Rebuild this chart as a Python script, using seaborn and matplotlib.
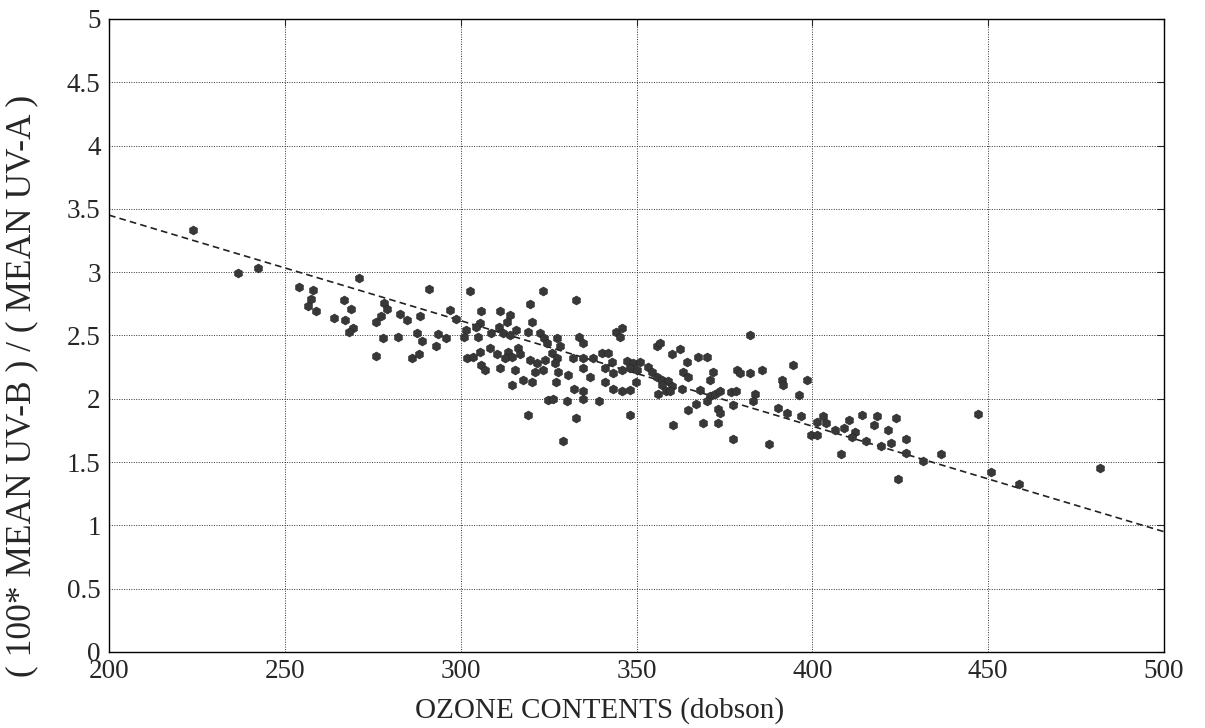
import numpy as np
import pandas as pd
import matplotlib
matplotlib.use("Agg")
import matplotlib.pyplot as plt
import seaborn as sns

sns.set_style("white")
plt.rcParams['font.family'] = ['Liberation Serif', 'DejaVu Serif']

# ozone (dobson) and 100*UV-B/UV-A ratio
ozone = [
    223.9, 236.8, 242.3, 271.1, 254.0, 258.0, 257.4, 256.5, 258.8, 266.9, 268.9, 264.0,
    267.1, 269.5, 268.2, 275.9, 275.9,
    291.0, 278.3, 279.0, 277.2, 282.7, 284.6, 288.3, 287.5, 288.9, 282.3, 278.0, 286.2,
    288.0, 293.0, 293.5,
    302.6, 323.3, 332.8, 319.7, 297.0, 305.9, 311.2, 314.0, 298.7, 305.5, 320.2, 313.3,
    310.8, 304.4, 301.5, 315.6, 319.2, 322.5, 295.7, 301.0, 305.0, 308.5, 312.1, 314.0,
    323.7, 324.4, 327.3, 328.2, 333.7, 334.7, 344.3, 345.3, 308.3, 305.5, 313.5, 316.4,
    316.9, 314.5, 301.7, 303.6, 310.4, 312.6, 319.7, 321.6, 324.0, 325.9, 327.3, 326.8,
    332.0, 334.9, 337.7, 340.1, 342.0, 342.9, 341.0, 305.9, 311.2, 306.9, 315.4, 321.1,
    323.5, 327.7, 330.6, 334.9, 336.8, 341.0, 314.5, 317.8, 320.4, 327.1, 332.2, 334.9,
    343.2, 324.9, 326.3, 330.1, 334.9, 339.2, 319.2, 332.8, 329.2,
    346.0, 382.3, 355.7, 356.7, 360.0, 362.5, 367.6, 369.9, 394.6, 385.6, 378.6, 379.4,
    382.3, 371.8, 370.9, 364.3, 363.3, 364.7, 391.5, 391.7, 343.4, 347.2, 349.1, 351.0,
    348.1, 350.0, 345.8, 353.3, 354.3, 355.7, 357.1, 359.0, 360.0, 357.1, 358.5, 359.5,
    356.2, 349.8, 345.8, 348.1, 362.8, 368.0, 370.9, 372.3, 373.7, 369.9, 377.0, 378.4,
    383.7, 383.2, 377.5, 373.3, 373.7, 366.9, 364.7, 369.0, 373.3, 390.3, 392.7, 360.5,
    348.1, 377.3, 387.7,
    398.6, 396.2, 396.9, 401.2, 403.1, 404.0, 399.5, 401.2, 406.4, 409.0, 410.5, 412.1,
    411.4, 414.0, 415.2, 417.5, 418.5, 419.4, 421.6, 422.5, 423.9, 426.5, 426.5, 408.1,
    431.5, 436.6, 424.4, 447.2,
    450.8, 458.8, 481.7,
]
ratio = [
    3.33, 2.99, 3.03, 2.95, 2.88, 2.86, 2.79, 2.73, 2.69, 2.78, 2.71, 2.64,
    2.62, 2.56, 2.53, 2.61, 2.34,
    2.87, 2.76, 2.71, 2.65, 2.67, 2.62, 2.65, 2.52, 2.46, 2.49, 2.48, 2.32,
    2.35, 2.42, 2.51,
    2.85, 2.85, 2.78, 2.75, 2.70, 2.69, 2.69, 2.66, 2.63, 2.60, 2.61, 2.61,
    2.57, 2.57, 2.54, 2.54, 2.53, 2.52, 2.48, 2.49, 2.49, 2.52, 2.52, 2.50,
    2.48, 2.44, 2.48, 2.42, 2.49, 2.44, 2.53, 2.49, 2.40, 2.37, 2.37, 2.40,
    2.35, 2.33, 2.32, 2.33, 2.35, 2.32, 2.31, 2.28, 2.31, 2.36, 2.32, 2.28,
    2.32, 2.32, 2.32, 2.36, 2.36, 2.29, 2.24, 2.27, 2.24, 2.23, 2.23, 2.21,
    2.23, 2.21, 2.19, 2.24, 2.17, 2.13, 2.11, 2.15, 2.13, 2.13, 2.08, 2.06,
    2.08, 1.99, 2.00, 1.98, 2.00, 1.98, 1.87, 1.85, 1.67,
    2.56, 2.50, 2.42, 2.44, 2.35, 2.39, 2.33, 2.33, 2.27, 2.23, 2.23, 2.20,
    2.20, 2.21, 2.15, 2.29, 2.21, 2.17, 2.15, 2.11, 2.20, 2.30, 2.28, 2.29,
    2.24, 2.23, 2.23, 2.25, 2.21, 2.17, 2.15, 2.14, 2.10, 2.11, 2.06, 2.06,
    2.04, 2.13, 2.06, 2.07, 2.08, 2.07, 2.02, 2.04, 2.06, 1.98, 2.05, 2.06,
    2.04, 1.98, 1.95, 1.92, 1.89, 1.96, 1.91, 1.81, 1.81, 1.93, 1.89, 1.79,
    1.87, 1.68, 1.64,
    2.15, 2.03, 1.86, 1.82, 1.86, 1.81, 1.71, 1.71, 1.75, 1.77, 1.83, 1.74,
    1.70, 1.87, 1.67, 1.79, 1.86, 1.63, 1.75, 1.65, 1.85, 1.68, 1.57, 1.56,
    1.51, 1.56, 1.37, 1.88,
    1.42, 1.33, 1.45,
]

# fitted regression line end points
fit_x = [200, 500]
fit_y = [3.45, 0.95]

df = pd.DataFrame({"ozone": ozone, "ratio": ratio})
fit = pd.DataFrame({"ozone": fit_x, "ratio": fit_y})

fig, ax = plt.subplots(figsize=(12.05, 7.28), dpi=100)
fig.subplots_adjust(left=0.0905, right=0.966, bottom=0.1044, top=0.974)

sns.lineplot(data=fit, x="ozone", y="ratio", ax=ax, color="#222222", lw=1.2,
             linestyle=(0, (4, 2.5)), zorder=2)
sns.scatterplot(data=df, x="ozone", y="ratio", ax=ax, marker="h", s=42,
                color="#383838", edgecolor="#262626", linewidth=0.4, zorder=3)

ax.set_xlim(200, 500)
ax.set_ylim(0, 5)
ax.set_xticks(np.arange(200, 501, 50))
ax.set_yticks(np.arange(0, 5.01, 0.5))
ax.set_yticklabels(["0", "0.5", "1", "1.5", "2", "2.5", "3", "3.5", "4", "4.5", "5"])
ax.grid(True, linestyle=(0, (1, 1.5)), color="#333333", lw=0.7)
ax.tick_params(direction="in", length=5, width=0.8, top=True, right=True,
               labelsize=19.5)
ax.tick_params(axis="y", pad=6)
ax.tick_params(axis="x", pad=5)
for s in ax.spines.values():
    s.set_color("black")
    s.set_linewidth(1.0)

ax.set_xlabel("OZONE CONTENTS (dobson)", fontsize=21)
ax.set_ylabel("( 100* MEAN UV-B ) / ( MEAN UV-A )", fontsize=25.5)
ax.xaxis.label.set_va("center")
ax.yaxis.label.set_va("center")
ax.xaxis.set_label_coords(0.465, -0.093)
ax.yaxis.set_label_coords(-0.083, 0.42)

plt.savefig("out.png", dpi=100)
